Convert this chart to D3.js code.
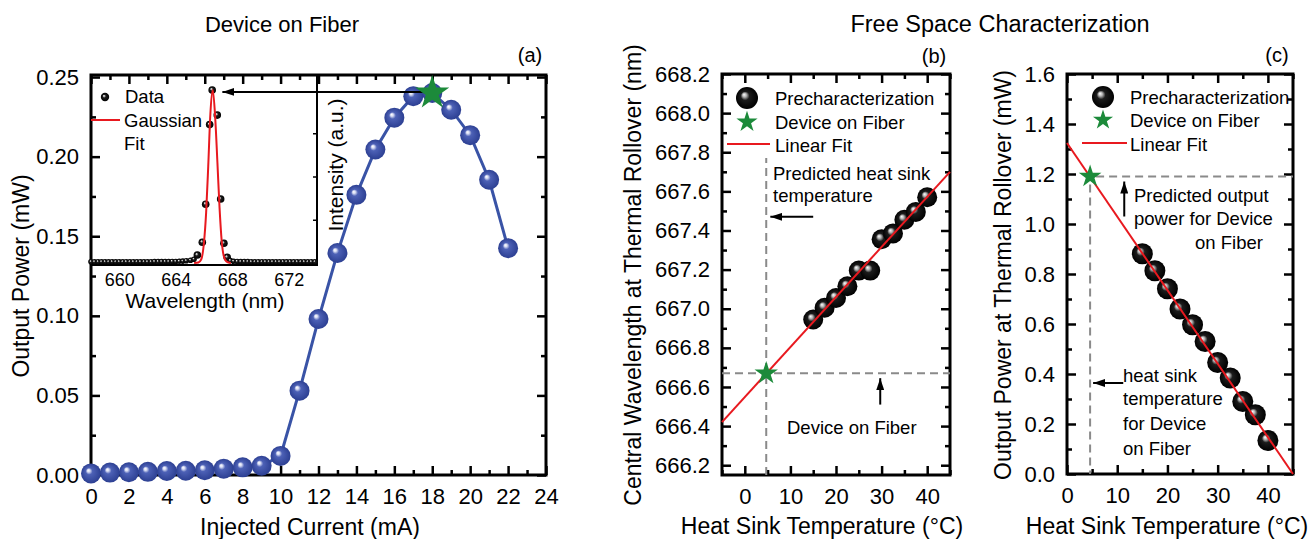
<!DOCTYPE html>
<html>
<head>
<meta charset="utf-8">
<script src="https://cdnjs.cloudflare.com/ajax/libs/d3/7.8.5/d3.min.js"></script>
<style>
body { margin: 0; background: #fff; }
svg text { font-family: "Liberation Sans", Arial, sans-serif; fill: #000; }
</style>
</head>
<body>
<div id="chart"></div>
<script>
// (a) device on fiber, L-I curve
var currentA = [0, 1, 2, 3, 4, 5, 6, 7, 8, 9, 10, 11, 12, 13, 14, 15, 16, 17, 18, 19, 20, 21, 22];
var powerA = [0.001, 0.0015, 0.0017, 0.002, 0.0025, 0.0027, 0.003, 0.004, 0.0048, 0.0058, 0.012, 0.053,
    0.098, 0.1395, 0.176, 0.2045, 0.2245, 0.238, 0.240, 0.2295, 0.2135, 0.1855, 0.1425];
var starA = [18, 0.2400];
var xTicksA = [0, 2, 4, 6, 8, 10, 12, 14, 16, 18, 20, 22, 24];
var yTicksA = [0, 0.05, 0.10, 0.15, 0.20, 0.25];

// inset: spectrum
var waveIn = [658.00, 658.25, 658.50, 658.75, 659.00, 659.25, 659.50, 659.75, 660.00, 660.25, 660.50, 660.75,
    661.00, 661.25, 661.50, 661.75, 662.00, 662.25, 662.50, 662.75, 663.00, 663.25, 663.50, 663.75, 664.00,
    664.25, 664.50, 664.75, 665.05, 665.29, 665.53, 665.88, 666.12, 666.40, 666.58, 666.94, 667.18, 667.41,
    667.64, 667.87, 668.10, 668.35, 668.60, 668.85, 669.10, 669.35, 669.60, 669.85, 670.10, 670.35, 670.60,
    670.85, 671.10, 671.35, 671.60, 671.85, 672.10, 672.35, 672.60, 672.85, 673.10, 673.35, 673.60, 673.85];
var intenIn = [0.007, 0.007, 0.007, 0.007, 0.007, 0.007, 0.007, 0.007, 0.007, 0.007, 0.007, 0.007,
    0.007, 0.007, 0.007, 0.007, 0.007, 0.007, 0.008, 0.008, 0.008, 0.008, 0.008, 0.009, 0.009,
    0.010, 0.011, 0.013, 0.016, 0.022, 0.046, 0.12, 0.34, 0.80, 1.0, 0.855, 0.37, 0.114,
    0.033, 0.014, 0.010, 0.009, 0.008, 0.008, 0.008, 0.007, 0.007, 0.007, 0.007, 0.007, 0.007,
    0.007, 0.007, 0.007, 0.007, 0.007, 0.007, 0.007, 0.007, 0.007, 0.007, 0.007, 0.007, 0.007];
var fitWave = [665.3, 665.6, 665.8, 666.0, 666.15, 666.3, 666.45, 666.62, 666.8, 666.95, 667.1, 667.25, 667.4, 667.6, 667.9];
var fitInten = [0, 0.003, 0.02, 0.12, 0.29, 0.56, 0.86, 1.0, 0.83, 0.58, 0.32, 0.13, 0.04, 0.008, 0];
var xTicksIn = [660, 664, 668, 672];

// (b) wavelength at thermal rollover
var tempB = [15, 17.5, 20, 22.5, 25, 27.5, 30, 32.5, 35, 37.5, 40];
var wlB = [666.945, 667.005, 667.055, 667.115, 667.195, 667.195, 667.355, 667.385, 667.455, 667.495, 667.57];
var fitBx = [-5, 45];
var fitBy = [666.42, 667.70];
var starB = [4.7, 666.67];
var xTicksB = [0, 10, 20, 30, 40];
var yTicksB = [666.2, 666.4, 666.6, 666.8, 667.0, 667.2, 667.4, 667.6, 667.8, 668.0, 668.2];

// (c) power at thermal rollover
var tempC = [15, 17.5, 20, 22.5, 25, 27.5, 30, 32.5, 35, 37.5, 40];
var powC = [0.881, 0.813, 0.741, 0.66, 0.597, 0.53, 0.446, 0.384, 0.29, 0.237, 0.134];
var fitCx = [0, 45];
var fitCy = [1.324, 0];
var starC = [4.6, 1.19];
var xTicksC = [0, 10, 20, 30, 40];
var yTicksC = [0, 0.2, 0.4, 0.6, 0.8, 1.0, 1.2, 1.4, 1.6];

var w = 1313;
var h = 539;
var svg = d3.select("#chart")
    .append("svg")
    .attr("width", w)
    .attr("height", h);

var defs = svg.append("defs");

function ballGradient(id, stops) {
    var gr = defs.append("radialGradient").attr("id", id)
        .attr("cx", "50%").attr("cy", "50%").attr("r", "50%")
        .attr("fx", "36%").attr("fy", "34%");
    stops.forEach(function (s) {
        gr.append("stop").attr("offset", s[0]).attr("stop-color", s[1]);
    });
}
ballGradient("blueBall", [["0%", "#ffffff"], ["14%", "#d8ddf3"], ["34%", "#4d61b6"], ["100%", "#2c3f92"]]);
ballGradient("blackBall", [["0%", "#ffffff"], ["18%", "#b4b4b4"], ["40%", "#1c1c1c"], ["100%", "#000000"]]);

defs.append("marker").attr("id", "arrow")
    .attr("viewBox", "0 0 12 8").attr("refX", 12).attr("refY", 4)
    .attr("markerWidth", 12).attr("markerHeight", 8)
    .attr("markerUnits", "userSpaceOnUse").attr("orient", "auto")
    .append("path").attr("d", "M0,0L12,4L0,8z").attr("fill", "#000");

var star = function (size) { return d3.symbol().type(d3.symbolStar).size(size)(); };
var green = "#1c8a3a";
var red = "#e8191f";

// frame + inward ticks on all four sides
function drawFrame(g, x, y, xMajor, xMinor, yMajor, yMinor, yFmt) {
    var xr = x.range(), yr = y.range();
    function clean(sel) {
        sel.select(".domain").remove();
        sel.selectAll(".tick line").attr("stroke", "#000").attr("stroke-width", 2.5);
        sel.attr("font-family", null).attr("font-size", 22);
    }
    g.append("g").attr("transform", "translate(0," + yr[0] + ")")
        .call(d3.axisBottom(x).tickValues(xMinor).tickSize(-5).tickFormat("")).call(clean);
    g.append("g").attr("transform", "translate(0," + yr[1] + ")")
        .call(d3.axisTop(x).tickValues(xMinor).tickSize(-5).tickFormat("")).call(clean);
    g.append("g").attr("transform", "translate(" + xr[0] + ",0)")
        .call(d3.axisLeft(y).tickValues(yMinor).tickSize(-5).tickFormat("")).call(clean);
    g.append("g").attr("transform", "translate(" + xr[1] + ",0)")
        .call(d3.axisRight(y).tickValues(yMinor).tickSize(-5).tickFormat("")).call(clean);

    g.append("g").attr("transform", "translate(0," + yr[0] + ")")
        .call(d3.axisBottom(x).tickValues(xMajor).tickSize(-9).tickPadding(13).tickFormat(d3.format("d"))).call(clean);
    g.append("g").attr("transform", "translate(0," + yr[1] + ")")
        .call(d3.axisTop(x).tickValues(xMajor).tickSize(-9).tickFormat("")).call(clean);
    g.append("g").attr("transform", "translate(" + xr[0] + ",0)")
        .call(d3.axisLeft(y).tickValues(yMajor).tickSize(-9).tickPadding(12).tickFormat(yFmt)).call(clean);
    g.append("g").attr("transform", "translate(" + xr[1] + ",0)")
        .call(d3.axisRight(y).tickValues(yMajor).tickSize(-9).tickFormat("")).call(clean);

    g.append("rect")
        .attr("x", xr[0]).attr("y", yr[1])
        .attr("width", xr[1] - xr[0]).attr("height", yr[0] - yr[1])
        .attr("fill", "none").attr("stroke", "#000").attr("stroke-width", 3);
}

function addText(g, x, y, str, size, anchor) {
    return g.append("text").attr("x", x).attr("y", y)
        .attr("font-size", size).attr("text-anchor", anchor || "start").text(str);
}
function addVText(g, x, y, str, size) {
    return g.append("text").attr("transform", "translate(" + x + "," + y + ") rotate(-90)")
        .attr("text-anchor", "middle").attr("dy", "0.35em")
        .attr("font-size", size).text(str);
}

// ---------------- panel (a)
var gA = svg.append("g");
var xA = d3.scaleLinear().domain([0, 24]).range([91, 546]);
var yA = d3.scaleLinear().domain([0, 0.2513]).range([475, 75]);

drawFrame(gA, xA, yA, xTicksA, d3.range(1, 24, 2), yTicksA, d3.range(0.025, 0.25, 0.05), d3.format(".2f"));

// inset
var xIn = d3.scaleLinear().domain([658, 674]).range([91, 317]);
var yIn = d3.scaleLinear().domain([0, 1]).range([263, 90]);

var inAxis = gA.append("g").attr("transform", "translate(0,265)")
    .call(d3.axisBottom(xIn).tickValues(xTicksIn).tickSize(-5).tickPadding(8).tickFormat(d3.format("d")));
inAxis.select(".domain").remove();
inAxis.selectAll(".tick line").attr("stroke", "#000").attr("stroke-width", 1.5);
inAxis.attr("font-family", null).attr("font-size", 18);

var inRight = gA.append("g").attr("transform", "translate(317,0)")
    .call(d3.axisRight(yIn).tickValues([0.25, 0.5, 0.75]).tickSize(-4).tickFormat(""));
inRight.select(".domain").remove();
inRight.selectAll(".tick line").attr("stroke", "#000").attr("stroke-width", 1.5);

gA.append("path")
    .attr("d", "M" + xIn.range()[0] + "," + 265 + "H" + xIn.range()[1] + "V" + yA.range()[1])
    .attr("fill", "none").attr("stroke", "#000").attr("stroke-width", 2);

var inData = waveIn.map(function (d, i) { return { x: d, y: intenIn[i] }; });
gA.selectAll(".inpt")
    .data(inData)
    .enter().append("circle")
    .attr("class", "inpt")
    .attr("cx", function (d) { return xIn(d.x); })
    .attr("cy", function (d) { return yIn(d.y); })
    .attr("r", function (d) { return d.y > 0.03 ? 3.8 : 2.8; })
    .attr("fill", "url(#blackBall)");

var fitLine = d3.line()
    .x(function (d) { return xIn(d); })
    .y(function (d, i) { return yIn(fitInten[i]); })
    .curve(d3.curveMonotoneX);
gA.append("path").attr("d", fitLine(fitWave))
    .attr("fill", "none").attr("stroke", red).attr("stroke-width", 2);

// inset legend
gA.append("circle").attr("cx", 105).attr("cy", 97).attr("r", 4.2).attr("fill", "url(#blackBall)");
addText(gA, 125, 103, "Data", 18.5);
gA.append("line").attr("x1", 91).attr("x2", 120).attr("y1", 120).attr("y2", 120)
    .attr("stroke", red).attr("stroke-width", 2);
addText(gA, 124, 127, "Gaussian", 18.5);
addText(gA, 124, 150, "Fit", 18.5);
addText(gA, 205, 308, "Wavelength (nm)", 21, "middle");
addVText(gA, 336, 165, "Intensity (a.u.)", 21);

// L-I curve
var liLine = d3.line()
    .x(function (d) { return xA(d); })
    .y(function (d, i) { return yA(powerA[i]); });
gA.append("path").attr("d", liLine(currentA))
    .attr("fill", "none").attr("stroke", "#3953a6").attr("stroke-width", 3);

gA.selectAll(".li")
    .data(currentA)
    .enter().append("circle")
    .attr("class", "li")
    .attr("cx", function (d) { return xA(d); })
    .attr("cy", function (d, i) { return yA(powerA[i]); })
    .attr("r", 10)
    .attr("fill", "url(#blueBall)");

// arrow from star to inset peak
gA.append("line")
    .attr("x1", xA(starA[0])).attr("y1", yA(starA[1]) - 1)
    .attr("x2", xIn(667.3)).attr("y2", yA(starA[1]) - 1)
    .attr("stroke", "#000").attr("stroke-width", 2).attr("marker-end", "url(#arrow)");

gA.append("path").attr("d", star(360))
    .attr("transform", "translate(" + xA(starA[0]) + "," + yA(starA[1]) + ")")
    .attr("fill", green);

addText(gA, 282, 32, "Device on Fiber", 22, "middle");
addText(gA, 530, 62, "(a)", 20, "middle");
addVText(gA, 21, 276, "Output Power (mW)", 23);
addText(gA, 310, 535, "Injected Current (mA)", 23, "middle");

// ---------------- panel (b)
var gB = svg.append("g");
var xB = d3.scaleLinear().domain([-5, 45]).range([722, 950]);
var yB = d3.scaleLinear().domain([666.15, 668.2]).range([475, 74]);

drawFrame(gB, xB, yB, xTicksB, d3.range(-5, 46, 10), yTicksB, d3.range(666.3, 668.2, 0.2), d3.format(".1f"));

// dashed guides
gB.append("line")
    .attr("x1", xB(-5)).attr("x2", xB(45)).attr("y1", yB(starB[1])).attr("y2", yB(starB[1]))
    .attr("stroke", "#8a8a8a").attr("stroke-width", 2).attr("stroke-dasharray", "8,5");
gB.append("line")
    .attr("x1", xB(starB[0])).attr("x2", xB(starB[0])).attr("y1", yB(666.15)).attr("y2", yB(667.77))
    .attr("stroke", "#8a8a8a").attr("stroke-width", 2).attr("stroke-dasharray", "8,5");

gB.selectAll(".pb")
    .data(tempB)
    .enter().append("circle")
    .attr("class", "pb")
    .attr("cx", function (d) { return xB(d); })
    .attr("cy", function (d, i) { return yB(wlB[i]); })
    .attr("r", 10)
    .attr("fill", "url(#blackBall)");

gB.append("line")
    .attr("x1", xB(fitBx[0])).attr("y1", yB(fitBy[0]))
    .attr("x2", xB(fitBx[1])).attr("y2", yB(fitBy[1]))
    .attr("stroke", red).attr("stroke-width", 2);

gB.append("path").attr("d", star(170))
    .attr("transform", "translate(" + xB(starB[0]) + "," + yB(starB[1]) + ")")
    .attr("fill", green);

// legend (b)
gB.append("circle").attr("cx", 747).attr("cy", 98).attr("r", 11).attr("fill", "url(#blackBall)");
addText(gB, 775, 105, "Precharacterization", 18.5);
gB.append("path").attr("d", star(140)).attr("transform", "translate(747,122)").attr("fill", green);
addText(gB, 775, 128.5, "Device on Fiber", 18.5);
gB.append("line").attr("x1", 727).attr("x2", 770).attr("y1", 144).attr("y2", 144)
    .attr("stroke", red).attr("stroke-width", 2);
addText(gB, 775, 152, "Linear Fit", 18.5);

// annotations (b)
addText(gB, 773, 180, "Predicted heat sink", 18.5);
addText(gB, 773, 202, "temperature", 18.5);
gB.append("line")
    .attr("x1", xB(15)).attr("x2", xB(5.6)).attr("y1", yB(667.47)).attr("y2", yB(667.47))
    .attr("stroke", "#000").attr("stroke-width", 2).attr("marker-end", "url(#arrow)");
addText(gB, 787, 434, "Device on Fiber", 18.5);
gB.append("line")
    .attr("x1", xB(29.7)).attr("x2", xB(29.7)).attr("y1", yB(666.51)).attr("y2", yB(666.645))
    .attr("stroke", "#000").attr("stroke-width", 2).attr("marker-end", "url(#arrow)");

addText(gB, 934, 63, "(b)", 20, "middle");
addVText(gB, 633, 275, "Central Wavelength at Thermal Rollover (nm)", 23);
addText(gB, 822, 534, "Heat Sink Temperature (\u00B0C)", 23, "middle");

// ---------------- panel (c)
var gC = svg.append("g");
var xC = d3.scaleLinear().domain([0, 45]).range([1067, 1293]);
var yC = d3.scaleLinear().domain([0, 1.6]).range([474, 74]);

drawFrame(gC, xC, yC, xTicksC, d3.range(5, 46, 10), yTicksC, d3.range(0.1, 1.6, 0.2), d3.format(".1f"));

gC.append("line")
    .attr("x1", xC(starC[0]) + 6).attr("x2", xC(45)).attr("y1", yC(starC[1])).attr("y2", yC(starC[1]))
    .attr("stroke", "#8a8a8a").attr("stroke-width", 2).attr("stroke-dasharray", "8,5");
gC.append("line")
    .attr("x1", xC(starC[0])).attr("x2", xC(starC[0])).attr("y1", yC(starC[1]) + 8).attr("y2", yC(0))
    .attr("stroke", "#8a8a8a").attr("stroke-width", 2).attr("stroke-dasharray", "8,5");

gC.selectAll(".pc")
    .data(tempC)
    .enter().append("circle")
    .attr("class", "pc")
    .attr("cx", function (d) { return xC(d); })
    .attr("cy", function (d, i) { return yC(powC[i]); })
    .attr("r", 10.5)
    .attr("fill", "url(#blackBall)");

gC.append("line")
    .attr("x1", xC(fitCx[0])).attr("y1", yC(fitCy[0]))
    .attr("x2", xC(fitCx[1])).attr("y2", yC(fitCy[1]))
    .attr("stroke", red).attr("stroke-width", 2);

gC.append("path").attr("d", star(160))
    .attr("transform", "translate(" + xC(starC[0]) + "," + yC(starC[1]) + ")")
    .attr("fill", green);

// legend (c)
gC.append("circle").attr("cx", 1103).attr("cy", 97).attr("r", 11).attr("fill", "url(#blackBall)");
addText(gC, 1130, 103.5, "Precharacterization", 18.5);
gC.append("path").attr("d", star(125)).attr("transform", "translate(1103,120)").attr("fill", green);
addText(gC, 1130, 127, "Device on Fiber", 18.5);
gC.append("line").attr("x1", 1082).attr("x2", 1127).attr("y1", 143).attr("y2", 143)
    .attr("stroke", red).attr("stroke-width", 2);
addText(gC, 1130, 151, "Linear Fit", 18.5);

// annotations (c)
gC.append("line")
    .attr("x1", xC(11.4)).attr("x2", xC(11.4)).attr("y1", yC(1.03)).attr("y2", yC(1.17))
    .attr("stroke", "#000").attr("stroke-width", 2).attr("marker-end", "url(#arrow)");
addText(gC, 1134, 201.5, "Predicted output", 18.5);
addText(gC, 1134, 225, "power for Device", 18.5);
addText(gC, 1195, 249, "on Fiber", 18.5);
gC.append("line")
    .attr("x1", xC(11.2)).attr("x2", xC(5.2)).attr("y1", yC(0.364)).attr("y2", yC(0.364))
    .attr("stroke", "#000").attr("stroke-width", 2).attr("marker-end", "url(#arrow)");
addText(gC, 1123, 381.5, "heat sink", 18.5);
addText(gC, 1123, 405, "temperature", 18.5);
addText(gC, 1123, 430, "for Device", 18.5);
addText(gC, 1123, 455, "on Fiber", 18.5);

addText(gC, 1277, 62, "(c)", 20, "middle");
addVText(gC, 1003, 275, "Output Power at Thermal Rollover (mW)", 23);
addText(gC, 1167, 534, "Heat Sink Temperature (\u00B0C)", 23, "middle");

addText(svg, 1000, 32, "Free Space Characterization", 23.5, "middle");
</script>
</body>
</html>
